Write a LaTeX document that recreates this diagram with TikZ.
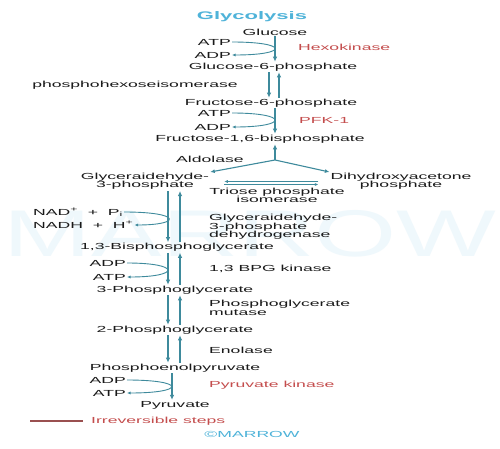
\documentclass[tikz,border=0pt]{standalone}
\usepackage{fontspec}
\setmainfont[FakeStretch=2.0]{Liberation Sans}
\newfontfamily\wmfont[FakeStretch=1.6]{Liberation Sans}
\usetikzlibrary{arrows.meta}
\definecolor{tealA}{HTML}{3E8A9C}
\definecolor{redtxt}{HTML}{C44D4D}
\definecolor{legred}{HTML}{9A5050}
\definecolor{titleblue}{HTML}{4FB3D9}
\definecolor{wmark}{HTML}{EFF8FC}
\definecolor{txt}{HTML}{1A1A1A}
\begin{document}
\begin{tikzpicture}[x=1pt,y=-1pt,
  every node/.style={inner sep=1pt,font=\fontsize{8.8}{8.4}\selectfont,text=txt},
  mainarr/.style={draw=tealA,line width=1.6pt,-{Latex[length=5pt,width=4.5pt]}},
  cofarr/.style={draw=tealA,line width=0.9pt,-{Latex[length=3.5pt,width=3pt]}},
  brarr/.style={draw=tealA,line width=1.1pt,-{Latex[length=4.5pt,width=4pt]}},
  enz/.style={text=redtxt,anchor=west},
  cof/.style={anchor=east},
  lab/.style={anchor=west,align=left},
  two/.style={align=center}]
\fill[white] (0,0) rectangle (500,449);
\useasboundingbox (0,0) rectangle (500,449);
% watermark
\node[font=\wmfont\fontsize{66}{66}\selectfont,text=wmark] (wm) at (250,234) {MARROW};
% title
\node[font=\bfseries\fontsize{11}{12}\selectfont,text=titleblue] (title) at (252,16.5) {Glycolysis};
% metabolites
\node (glc) at (275,32) {Glucose};
\node (g6p) at (273,67) {Glucose-6-phosphate};
\node (phi) at (135,85) {phosphohexoseisomerase};
\node (f6p) at (271,103) {Fructose-6-phosphate};
\node (f16bp) at (260,139) {Fructose-1,6-bisphosphate};
\node (ald) at (210,159) {Aldolase};
\node[two] (g3p) at (145,181.5) {Glyceraidehyde-\\3-phosphate};
\node[two] (dhap) at (401,181.5) {Dihydroxyacetone\\phosphate};
\node[two] (tpi) at (277,195.5) {Triose phosphate\\isomerase};
\node (bpg) at (177,247.5) {1,3-Bisphosphoglycerate};
\node (pgA) at (175,290) {3-Phosphoglycerate};
\node (pgB) at (175,330) {2-Phosphoglycerate};
\node (pep) at (175,368) {Phosphoenolpyruvate};
\node (pyr) at (175,405) {Pyruvate};
% cofactors
\node[cof] (atpA) at (232,42) {ATP};
\node[cof] (adpA) at (232,55) {ADP};
\node[cof] (atpB) at (232,113) {ATP};
\node[cof] (adpB) at (232,127) {ADP};
\node[anchor=west] (nad) at (32,212) {NAD\textsuperscript{+}~~+~~P\textsubscript{i}};
\node[anchor=west] (nadh) at (32,225) {NADH~~+~~H\textsuperscript{+}};
\node[cof] (adpC) at (127,263) {ADP};
\node[cof] (atpC) at (127,277) {ATP};
\node[cof] (adpD) at (127,380) {ADP};
\node[cof] (atpD) at (127,393) {ATP};
% enzymes
\node[enz] (hk) at (297,47) {Hexokinase};
\node[enz] (pfk) at (298,120) {PFK-1};
\node[lab] (gapdh) at (208,227) {Glyceraidehyde-\\3-phosphate\\dehydrogenase};
\node[lab] (bpgk) at (208,268.5) {1,3 BPG kinase};
\node[lab] (pgm) at (208,308) {Phosphoglycerate\\mutase};
\node[lab] (eno) at (208,350) {Enolase};
\node[enz] (pk) at (208,385) {Pyruvate kinase};
% legend
\node[enz] (irr) at (90,421) {Irreversible steps};
\coordinate (lg) at (30,421);
\draw[draw=legred,line width=1.2pt] (lg) -- ([xshift=-7pt]irr.west);
\node[text=titleblue] (copy) at (252,434) {©MARROW};
% columns
\coordinate (cU) at (275,0);
\coordinate (cUL) at (269,0);
\coordinate (cUR) at (279,0);
\coordinate (cL) at (168,0);
\coordinate (cR) at (180,0);
\coordinate (cM) at (172,0);
\coordinate (br) at (275,160);
\coordinate (tU) at (0,181.5);
\coordinate (tD) at (0,184.5);
% main arrows
\draw[mainarr] (cU |- glc.south) -- (cU |- g6p.north);
\draw[mainarr] (cUL |- g6p.south) -- (cUL |- f6p.north);
\draw[mainarr] (cUR |- f6p.north) -- (cUR |- g6p.south);
\draw[mainarr] (cU |- f6p.south) -- (cU |- f16bp.north);
\draw[mainarr] (br) -- (cU |- f16bp.south);
\draw[brarr] (br) -- (g3p.north east);
\draw[brarr] (br) -- (dhap.north west);
\draw[cofarr,shorten <=11pt,shorten >=14pt] (dhap.west |- tU) -- (g3p.east |- tU);
\draw[cofarr,shorten <=14pt,shorten >=11pt] (g3p.east |- tD) -- (dhap.west |- tD);
\draw[mainarr] (cL |- g3p.south) -- (cL |- bpg.north);
\draw[mainarr] (cR |- bpg.north) -- (cR |- g3p.south);
\draw[mainarr] (cL |- bpg.south) -- (cL |- pgA.north);
\draw[mainarr] (cR |- pgA.north) -- (cR |- bpg.south);
\draw[mainarr] (cL |- pgA.south) -- (cL |- pgB.north);
\draw[mainarr] (cR |- pgB.north) -- (cR |- pgA.south);
\draw[mainarr] (cL |- pgB.south) -- (cL |- pep.north);
\draw[mainarr] (cR |- pep.north) -- (cR |- pgB.south);
\draw[mainarr] (cM |- pep.south) -- (cM |- pyr.north);
% cofactor curves
\draw[cofarr] (atpA.east) .. controls (289,42) and (289,55) .. (adpA.east);
\draw[cofarr] (atpB.east) .. controls (289,113) and (289,127) .. (adpB.east);
\draw[cofarr] (nad.east) .. controls (182,212) and (182,225) .. (nadh.east);
\draw[cofarr] (adpC.east) .. controls (181,263) and (181,277) .. (atpC.east);
\draw[cofarr] (adpD.east) .. controls (186,380) and (186,393) .. (atpD.east);
\end{tikzpicture}
\end{document}
